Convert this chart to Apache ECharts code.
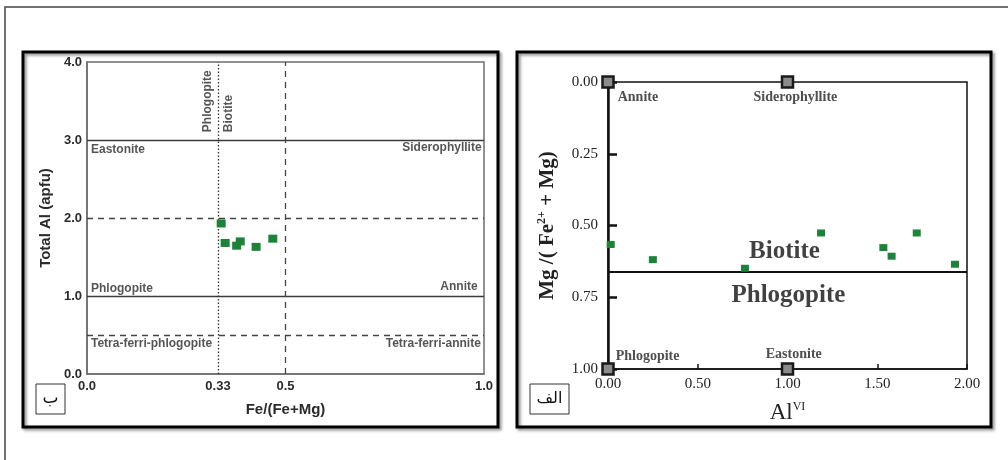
<!DOCTYPE html>
<html><head><meta charset="utf-8">
<script src="https://cdn.jsdelivr.net/npm/echarts@6/dist/echarts.min.js"></script>
<style>html,body{margin:0;padding:0;background:#fff}#c{width:1008px;height:460px}</style>
</head><body><div id="c"></div>
<script>
// ---------- Left panel (ب) ----------
const feRatio = [0.338, 0.348, 0.377, 0.386, 0.426, 0.468];
const totalAl = [1.93, 1.68, 1.645, 1.70, 1.63, 1.735];
const leftXTicks = [0, 0.33, 0.5, 1];
const leftXTickLabels = ['0.0', '0.33', '0.5', '1.0'];
const leftYTickLabels = ['0.0', '1.0', '2.0', '3.0', '4.0'];
const leftSolidY = [1, 3];
const leftDashedY = [0.5, 2];
const leftDashedX = [0.5];
const leftDottedX = [0.33];
const leftFieldNames = ['Eastonite', 'Siderophyllite', 'Phlogopite', 'Annite', 'Tetra-ferri-phlogopite', 'Tetra-ferri-annite'];
const leftFieldX = [0.01, 0.994, 0.01, 0.984, 0.01, 0.992];
const leftFieldY = [2.88, 2.90, 1.10, 1.12, 0.385, 0.385];
const leftFieldAlign = ['left', 'right', 'left', 'right', 'left', 'right'];
const leftVertNames = ['Phlogopite', 'Biotite'];
const leftVertX = [0.304, 0.356];
const leftVertY = [3.10, 3.10];

// ---------- Right panel (الف) ----------
const alVI = [0.015, 0.25, 0.763, 1.187, 1.534, 1.58, 1.72, 1.933];
const mgRatio = [0.566, 0.619, 0.649, 0.526, 0.577, 0.607, 0.526, 0.635];
const rightXTickLabels = ['0.00', '0.50', '1.00', '1.50', '2.00'];
const rightYTickLabels = ['0.00', '0.25', '0.50', '0.75', '1.00'];
const endMemberX = [0, 1, 0, 1];
const endMemberY = [0, 0, 1, 1];
const endLabelNames = ['Annite', 'Siderophyllite', 'Phlogopite', 'Eastonite'];
const endLabelX = [0.054, 1.044, 0.043, 1.035];
const endLabelY = [0.054, 0.054, 0.957, 0.948];
const endLabelAlign = ['left', 'center', 'left', 'center'];
const rightBoundaryY = [0.663];
const rightFieldNames = ['Biotite', 'Phlogopite'];
const rightFieldX = [0.983, 1.005];
const rightFieldY = [0.59, 0.744];

const SANS = 'Liberation Sans, Arial, sans-serif';
const SERIF = 'Liberation Serif, Times New Roman, serif';
const GREEN = '#1c8438';

const chart = echarts.init(document.getElementById('c'), null, {renderer: 'canvas'});

function labelSeries(xi, names, xs, ys, aligns, style, rotate) {
  return {
    type: 'scatter', xAxisIndex: xi, yAxisIndex: xi, silent: true, symbolSize: 0,
    z: 5,
    data: names.map((n, i) => ({
      value: [xs[i], ys[i]], name: n,
      label: {align: aligns[i]}
    })),
    label: Object.assign({
      show: true, position: 'inside', formatter: p => p.name,
      verticalAlign: 'middle', rotate: rotate || 0
    }, style)
  };
}

const option = {
  animation: false,
  backgroundColor: '#fff',
  grid: [
    {left: 87, top: 62, width: 397, height: 312, show: true, borderColor: '#6e6e6e', borderWidth: 1.5, backgroundColor: '#fff'},
    {left: 608, top: 82, width: 359, height: 287, show: true, borderColor: '#111', borderWidth: 1.5, backgroundColor: '#fff'}
  ],
  xAxis: [
    {
      gridIndex: 0, type: 'value', min: 0, max: 1,
      axisLine: {show: true, onZero: false, lineStyle: {color: '#6e6e6e', width: 1.5}},
      axisTick: {show: false},
      splitLine: {show: false},
      axisLabel: {
        customValues: leftXTicks, margin: 6,
        formatter: v => leftXTickLabels[leftXTicks.indexOf(v)],
        fontFamily: SANS, fontWeight: 'bold', fontSize: 13, color: '#2b2b2b'
      },
      name: 'Fe/(Fe+Mg)', nameLocation: 'middle', nameGap: 28,
      nameTextStyle: {fontFamily: SANS, fontWeight: 'bold', fontSize: 15, color: '#2b2b2b'}
    },
    {
      gridIndex: 1, type: 'value', min: 0, max: 2, interval: 0.5,
      axisLine: {show: true, onZero: false, lineStyle: {color: '#111', width: 1.5}},
      axisTick: {show: true, inside: true, length: 5, lineStyle: {color: '#111', width: 1.5}},
      splitLine: {show: false},
      axisLabel: {
        margin: 8,
        formatter: v => rightXTickLabels[Math.round(v / 0.5)],
        fontFamily: SERIF, fontSize: 15, color: '#222'
      },
      name: '{a|Al}{s|VI}', nameLocation: 'middle', nameGap: 32,
      nameTextStyle: {
        rich: {
          a: {fontFamily: SERIF, fontSize: 23, color: '#222'},
          s: {fontFamily: SERIF, fontSize: 12, color: '#222', padding: [0, 0, 12, 0]}
        }
      }
    }
  ],
  yAxis: [
    {
      gridIndex: 0, type: 'value', min: 0, max: 4, interval: 1,
      axisLine: {show: true, onZero: false, lineStyle: {color: '#6e6e6e', width: 1.5}},
      axisTick: {show: false},
      splitLine: {show: false},
      axisLabel: {
        margin: 5,
        formatter: v => leftYTickLabels[Math.round(v)],
        fontFamily: SANS, fontWeight: 'bold', fontSize: 13, color: '#2b2b2b'
      },
      name: 'Total Al (apfu)', nameLocation: 'middle', nameGap: 34, nameRotate: 90,
      nameTextStyle: {fontFamily: SANS, fontWeight: 'bold', fontSize: 15, color: '#2b2b2b'}
    },
    {
      gridIndex: 1, type: 'value', min: 0, max: 1, interval: 0.25, inverse: true,
      axisLine: {show: true, onZero: false, lineStyle: {color: '#111', width: 2.5}},
      axisTick: {show: true, inside: true, length: 9, lineStyle: {color: '#111', width: 2.5}},
      splitLine: {show: false},
      axisLabel: {
        margin: 10,
        formatter: v => rightYTickLabels[Math.round(v / 0.25)],
        fontFamily: SERIF, fontSize: 15, color: '#222'
      },
      name: '{b|Mg /( Fe}{s|2+}{b| + Mg)}', nameLocation: 'middle', nameGap: 49, nameRotate: 90,
      nameTextStyle: {
        rich: {
          b: {fontFamily: SERIF, fontWeight: 'bold', fontSize: 21, color: '#222'},
          s: {fontFamily: SERIF, fontWeight: 'bold', fontSize: 12, color: '#222', padding: [0, 0, 11, 0]}
        }
      }
    }
  ],
  series: [
    {
      type: 'scatter', xAxisIndex: 0, yAxisIndex: 0, z: 4,
      symbol: 'rect', symbolSize: [9, 8],
      itemStyle: {color: GREEN, opacity: 1},
      data: feRatio.map((x, i) => [x, totalAl[i]]),
      markLine: {
        silent: true, symbol: 'none', label: {show: false}, z: 3,
        data: [
          ...leftSolidY.map(v => ({yAxis: v, lineStyle: {type: 'solid', color: '#3a3a3a', width: 1.3}})),
          ...leftDashedY.map(v => ({yAxis: v, lineStyle: {type: [6, 5], color: '#444', width: 1.3}})),
          ...leftDashedX.map(v => ({xAxis: v, lineStyle: {type: [6, 5], color: '#444', width: 1.3}})),
          ...leftDottedX.map(v => ({xAxis: v, lineStyle: {type: [1.5, 2], color: '#333', width: 1.3}}))
        ]
      }
    },
    labelSeries(0, leftFieldNames, leftFieldX, leftFieldY, leftFieldAlign,
      {fontFamily: SANS, fontWeight: 'bold', fontSize: 12, color: '#2b2b2b'}),
    labelSeries(0, leftVertNames, leftVertX, leftVertY, ['left', 'left'],
      {fontFamily: SANS, fontWeight: 'bold', fontSize: 12, color: '#2b2b2b'}, 90),
    {
      type: 'scatter', xAxisIndex: 1, yAxisIndex: 1, z: 4,
      symbol: 'rect', symbolSize: [8, 7],
      itemStyle: {color: GREEN, opacity: 1},
      data: alVI.map((x, i) => [x, mgRatio[i]]),
      markLine: {
        silent: true, symbol: 'none', label: {show: false}, z: 3,
        data: rightBoundaryY.map(v => ({yAxis: v, lineStyle: {type: 'solid', color: '#111', width: 2}}))
      }
    },
    {
      type: 'scatter', xAxisIndex: 1, yAxisIndex: 1, z: 6, silent: true,
      symbol: 'rect', symbolSize: 11,
      itemStyle: {color: '#8c8c8c', borderColor: '#1a1a1a', borderWidth: 2.5, opacity: 1},
      data: endMemberX.map((x, i) => [x, endMemberY[i]])
    },
    labelSeries(1, endLabelNames, endLabelX, endLabelY, endLabelAlign,
      {fontFamily: SERIF, fontWeight: 'bold', fontSize: 14, color: '#222'}),
    labelSeries(1, rightFieldNames, rightFieldX, rightFieldY, ['center', 'center'],
      {fontFamily: SERIF, fontWeight: 'bold', fontSize: 25, color: '#111'})
  ],
  graphic: [
    {type: 'rect', z: -10, shape: {x: 5, y: 7, width: 1020, height: 470}, style: {fill: 'none', stroke: '#444', lineWidth: 1.5}},
    {type: 'rect', z: -5, shape: {x: 23, y: 52, width: 475, height: 375},
      style: {fill: 'none', stroke: '#000', lineWidth: 3, shadowBlur: 3, shadowOffsetX: 2, shadowOffsetY: 2, shadowColor: 'rgba(0,0,0,0.45)'}},
    {type: 'rect', z: -5, shape: {x: 517, y: 52, width: 474, height: 375},
      style: {fill: 'none', stroke: '#000', lineWidth: 3, shadowBlur: 3, shadowOffsetX: 2, shadowOffsetY: 2, shadowColor: 'rgba(0,0,0,0.45)'}},
    {type: 'rect', z: 10, shape: {x: 36, y: 384, width: 29, height: 30}, style: {fill: '#fff', stroke: '#333', lineWidth: 1}},
    {type: 'text', z: 11, x: 50.5, y: 399, style: {text: 'ب', fontSize: 17, fontFamily: 'DejaVu Sans, Noto Sans, sans-serif', fill: '#111', align: 'center', verticalAlign: 'middle'}},
    {type: 'rect', z: 10, shape: {x: 530, y: 384, width: 39, height: 30}, style: {fill: '#fff', stroke: '#333', lineWidth: 1}},
    {type: 'text', z: 11, x: 549.5, y: 399, style: {text: 'الف', fontSize: 16, fontFamily: 'DejaVu Sans, Noto Sans, sans-serif', fill: '#111', align: 'center', verticalAlign: 'middle'}}
  ]
};
chart.setOption(option);
</script>
</body></html>
